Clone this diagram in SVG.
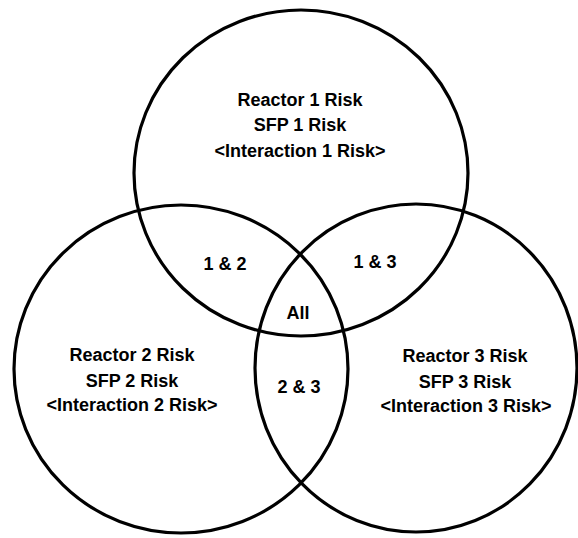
<svg xmlns="http://www.w3.org/2000/svg" width="578" height="538" viewBox="0 0 578 538">
<style>
.c{fill:none;stroke:#000;stroke-width:3.2}
text{font-family:"Liberation Sans",Arial,sans-serif;font-weight:bold;font-size:18px;fill:#000;text-anchor:middle}
</style>
<rect width="578" height="538" fill="#fff"/>
<g id="circle1"><ellipse class="c" cx="301" cy="173" rx="167" ry="163"/>
<text x="300" y="106">Reactor 1 Risk</text><text x="300" y="131">SFP 1 Risk</text><text x="300" y="157">&lt;Interaction 1 Risk&gt;</text></g>
<g id="circle2"><ellipse class="c" cx="181" cy="369" rx="167" ry="164"/>
<text x="132" y="361">Reactor 2 Risk</text><text x="132" y="387">SFP 2 Risk</text><text x="132" y="411">&lt;Interaction 2 Risk&gt;</text></g>
<g id="circle3"><ellipse class="c" cx="416" cy="368" rx="161" ry="164"/>
<text x="465" y="362">Reactor 3 Risk</text><text x="465" y="388">SFP 3 Risk</text><text x="466" y="412">&lt;Interaction 3 Risk&gt;</text></g>
<g id="overlaps">
<text x="225" y="270">1 &amp; 2</text>
<text x="375" y="268">1 &amp; 3</text>
<text x="298" y="319">All</text>
<text x="299" y="393">2 &amp; 3</text>
</g>
</svg>
